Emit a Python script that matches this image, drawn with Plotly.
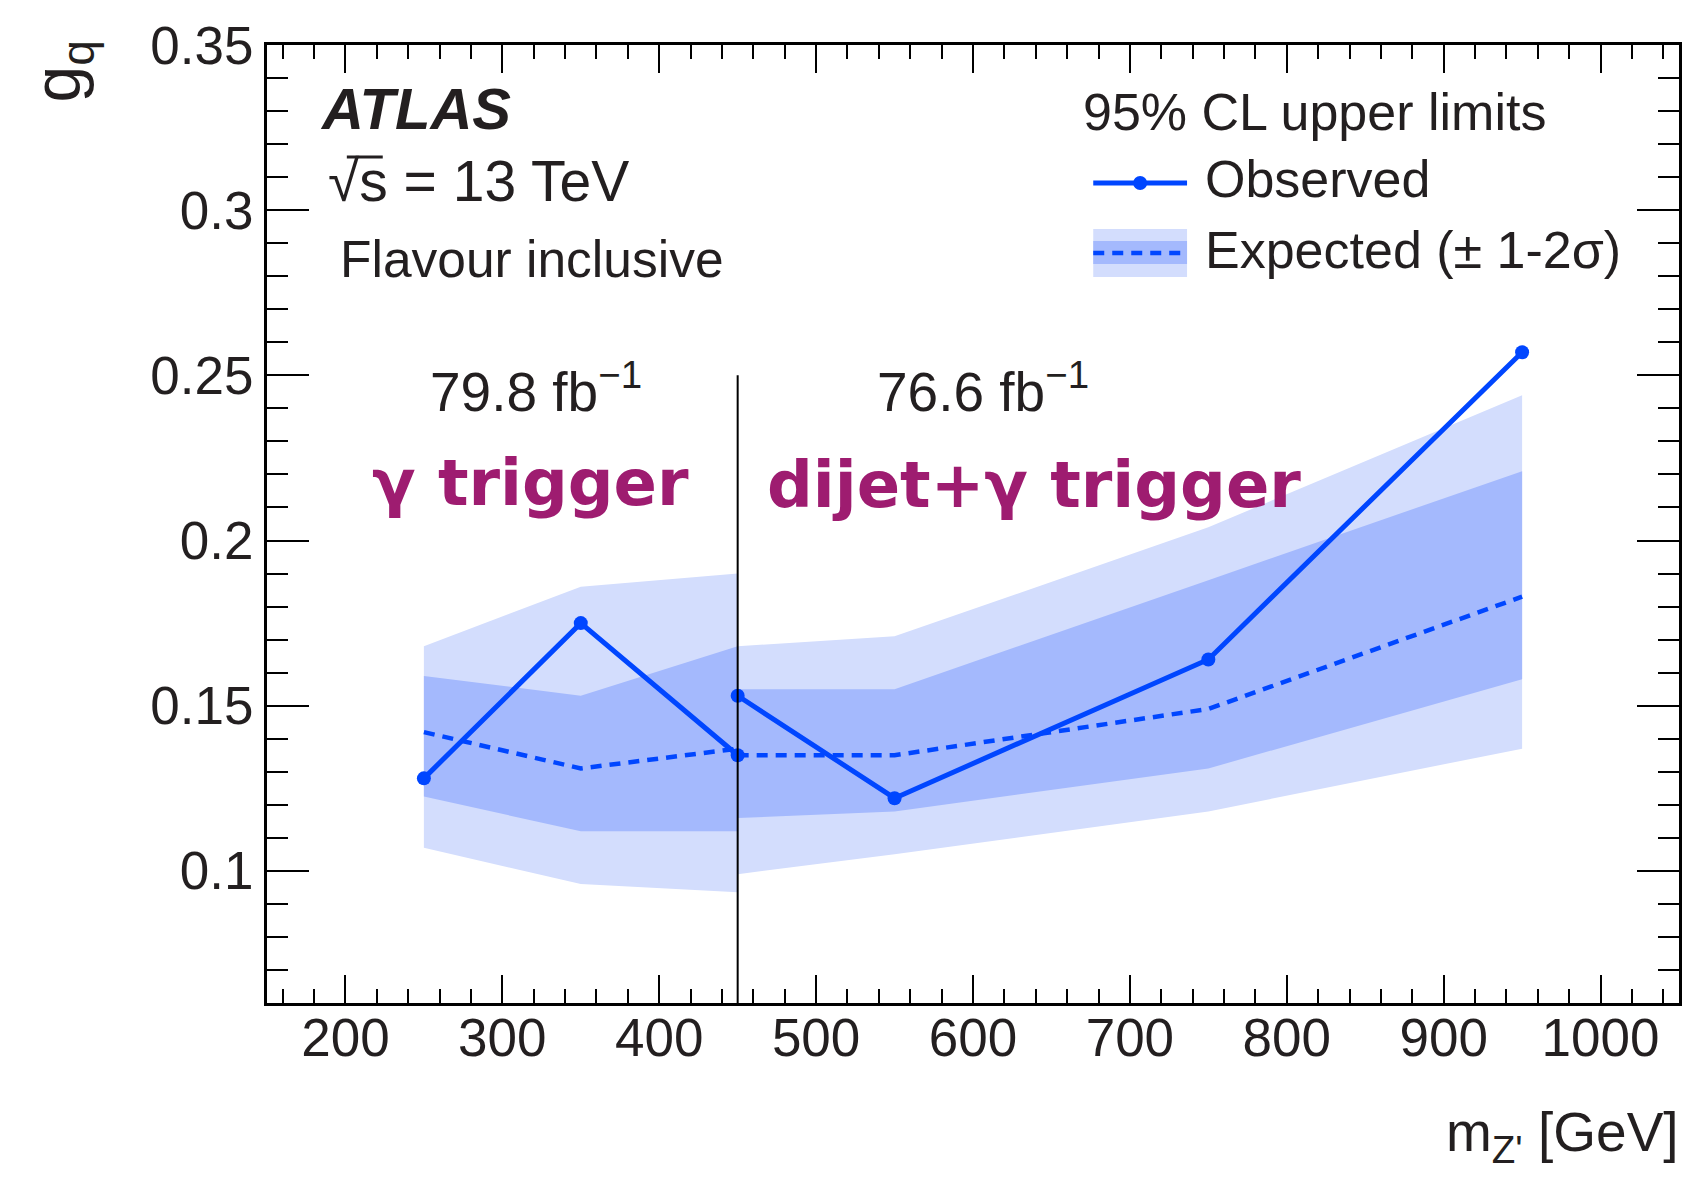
import plotly.graph_objects as go

# ---------------- data ----------------
mass_left = [250, 350, 450]
mass_right = [450, 550, 750, 950]

obs_left = [0.128, 0.175, 0.135]
obs_right = [0.153, 0.122, 0.164, 0.257]

exp_left = [0.142, 0.131, 0.137]
exp_right = [0.135, 0.135, 0.149, 0.183]

p1s_left = [0.159, 0.153, 0.168]
m1s_left = [0.1225, 0.112, 0.112]
p2s_left = [0.168, 0.186, 0.190]
m2s_left = [0.107, 0.096, 0.0935]

p1s_right = [0.155, 0.155, 0.188, 0.221]
m1s_right = [0.116, 0.118, 0.131, 0.158]
p2s_right = [0.168, 0.171, 0.204, 0.244]
m2s_right = [0.099, 0.105, 0.118, 0.137]

boundary_mass = 450
boundary_top = 0.25

x_ticks = [200, 300, 400, 500, 600, 700, 800, 900, 1000]
y_ticks = [0.1, 0.15, 0.2, 0.25, 0.3, 0.35]
y_tick_text = ["0.1", "0.15", "0.2", "0.25", "0.3", "0.35"]

# ---------------- style ----------------
W, H = 1691, 1182
L, R, T, B = 267, 1682, 45, 1003
FONT = "Liberation Sans, Arial, Helvetica, sans-serif"
TXT = "#231f20"
BLUE = "#0046ff"
LIGHT = "#d3ddfd"
DARK = "#a4b9fd"
PURPLE = "#9e1c70"
FS = 52
TFS = 53


def px(x):
    return (x - L) / (R - L)


def py(y):
    return (B - y) / (B - T)


fig = go.Figure()


def band(xs, lo, hi, color):
    fig.add_trace(go.Scatter(
        x=list(xs) + list(xs)[::-1], y=list(hi) + list(lo)[::-1],
        fill="toself", fillcolor=color, mode="lines",
        line=dict(width=0, color=color), hoverinfo="skip", showlegend=False))


band(mass_left, m2s_left, p2s_left, LIGHT)
band(mass_right, m2s_right, p2s_right, LIGHT)
band(mass_left, m1s_left, p1s_left, DARK)
band(mass_right, m1s_right, p1s_right, DARK)

for xs, ys in [(mass_left, exp_left), (mass_right, exp_right)]:
    fig.add_trace(go.Scatter(x=xs, y=ys, mode="lines",
                             line=dict(color=BLUE, width=4.5, dash="11px,8px"),
                             showlegend=False))

for xs, ys in [(mass_left, obs_left), (mass_right, obs_right)]:
    fig.add_trace(go.Scatter(x=xs, y=ys, mode="lines+markers",
                             line=dict(color=BLUE, width=5),
                             marker=dict(color=BLUE, size=14),
                             showlegend=False))

# boundary line
fig.add_shape(type="line", xref="x", yref="y", x0=boundary_mass, x1=boundary_mass,
              y0=0.06, y1=boundary_top, line=dict(color="black", width=2))

# ---------------- legend (manual) ----------------
lx0, lx1 = 1095, 1189
fig.add_shape(type="line", xref="paper", yref="paper", x0=px(lx0), x1=px(lx1),
              y0=py(183), y1=py(183), line=dict(color=BLUE, width=5))
fig.add_shape(type="circle", xref="paper", yref="paper",
              x0=px(1142 - 7), x1=px(1142 + 7), y0=py(183 - 7), y1=py(183 + 7),
              fillcolor=BLUE, line=dict(width=0))
fig.add_shape(type="rect", xref="paper", yref="paper", x0=px(lx0), x1=px(lx1),
              y0=py(277), y1=py(229), fillcolor=LIGHT, line=dict(width=0))
fig.add_shape(type="rect", xref="paper", yref="paper", x0=px(lx0), x1=px(lx1),
              y0=py(264), y1=py(241), fillcolor=DARK, line=dict(width=0))
fig.add_shape(type="line", xref="paper", yref="paper", x0=px(lx0), x1=px(lx1),
              y0=py(253), y1=py(253), line=dict(color=BLUE, width=4.5, dash="11px,8px"))

# overbar of the square root
fig.add_shape(type="line", xref="paper", yref="paper", x0=px(347), x1=px(383),
              y0=py(157), y1=py(157), line=dict(color=TXT, width=3))

annots = []


def txt(text, x, y, size=FS, xanchor="left", yanchor="middle", color=TXT, family=FONT, angle=0):
    annots.append(dict(text=text, x=px(x), y=py(y), xref="paper", yref="paper",
                       xanchor=xanchor, yanchor=yanchor, showarrow=False, textangle=angle,
                       font=dict(size=size, color=color, family=family)))


txt("<b><i>ATLAS</i></b>", 318, 108, size=58)
txt("√s = 13 TeV", 326, 181, size=57)
txt("Flavour inclusive", 338, 259, size=51.5)
txt("95% CL upper limits", 1083, 112)
txt("Observed", 1205, 179)
txt("Expected (± 1-2σ)", 1205, 250)
txt("79.8 fb<sup>−1</sup>", 428, 388, size=55)
txt("76.6 fb<sup>−1</sup>", 876, 388, size=55)
txt("<b>γ trigger</b>", 370, 483, size=64, color=PURPLE, family="DejaVu Sans")
txt("<b>dijet+γ trigger</b>", 766, 485, size=64, color=PURPLE, family="DejaVu Sans")
txt("m<sub>Z'</sub> [GeV]", 1684, 1136, size=55, xanchor="right")
txt("g<sub>q</sub>", 62, 38, size=66, yanchor="top", xanchor="center", angle=-90)

fig.update_layout(
    width=W, height=H,
    margin=dict(l=L, r=W - R, t=T, b=H - B, pad=0),
    paper_bgcolor="white", plot_bgcolor="white",
    annotations=annots, showlegend=False,
    font=dict(family=FONT, size=FS, color=TXT),
)

fig.update_xaxes(range=[150, 1050], tickvals=x_ticks, ticks="inside", ticklen=28,
                 tickwidth=2, tickcolor="black", showline=True, linecolor="black",
                 linewidth=3, mirror="allticks", showgrid=False, zeroline=False,
                 ticklabelstandoff=-14,
                 tickfont=dict(size=TFS, color=TXT, family=FONT),
                 minor=dict(dtick=20, ticks="inside", ticklen=14, tickwidth=2,
                            tickcolor="black", showgrid=False))
fig.update_yaxes(range=[0.06, 0.35], tickvals=y_ticks, ticktext=y_tick_text,
                 ticks="inside", ticklen=42, tickwidth=2, tickcolor="black",
                 showline=True, linecolor="black", linewidth=3, mirror="allticks",
                 showgrid=False, zeroline=False,
                 tickfont=dict(size=TFS, color=TXT, family=FONT),
                 minor=dict(dtick=0.01, tick0=0.06, ticks="inside", ticklen=21, tickwidth=2,
                            tickcolor="black", showgrid=False))

fig.write_html("out.html")
